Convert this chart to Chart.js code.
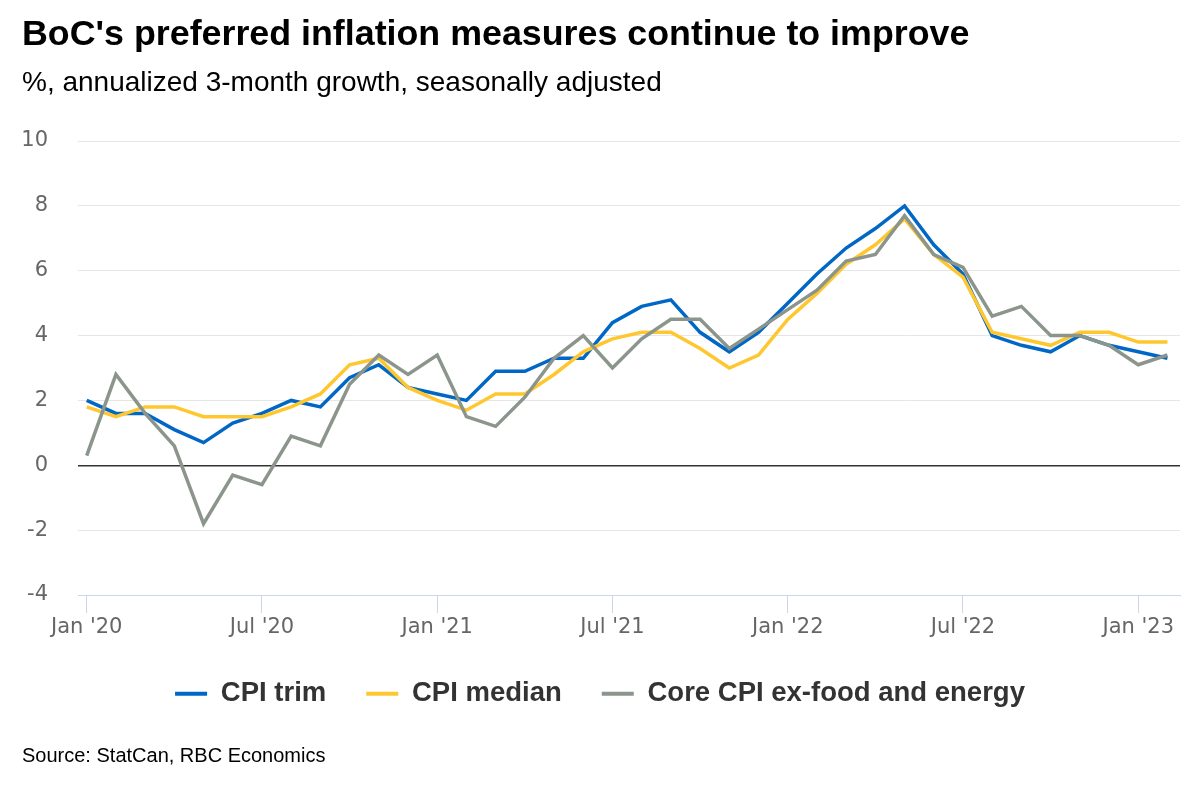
<!DOCTYPE html>
<html>
<head>
<meta charset="utf-8">
<script src="https://cdn.jsdelivr.net/npm/chart.js@4/dist/chart.umd.min.js"></script>
<style>
  html, body { margin: 0; padding: 0; background: #ffffff; }
  #wrap { position: relative; width: 1200px; height: 800px; overflow: hidden; background: #ffffff; }
  #chart { position: absolute; left: 0; top: 0; }
  .txt { position: absolute; left: 22px; white-space: nowrap; line-height: 1; font-family: "Liberation Sans", Arial, sans-serif; color: #000; }
  #title { top: 16px; font-size: 35.8px; font-weight: bold; }
  #subtitle { top: 68px; font-size: 28px; }
  #source { top: 745px; font-size: 20px; }
</style>
</head>
<body>
<div id="wrap">
  <canvas id="chart" width="1200" height="800"></canvas>
  <div class="txt" id="title">BoC's preferred inflation measures continue to improve</div>
  <div class="txt" id="subtitle">%, annualized 3-month growth, seasonally adjusted</div>
  <div class="txt" id="source">Source: StatCan, RBC Economics</div>
</div>
<script>
// ---- data ----
const months = [
  '2020-01','2020-02','2020-03','2020-04','2020-05','2020-06','2020-07','2020-08','2020-09','2020-10','2020-11','2020-12',
  '2021-01','2021-02','2021-03','2021-04','2021-05','2021-06','2021-07','2021-08','2021-09','2021-10','2021-11','2021-12',
  '2022-01','2022-02','2022-03','2022-04','2022-05','2022-06','2022-07','2022-08','2022-09','2022-10','2022-11','2022-12',
  '2023-01','2023-02'
];
const cpiTrim = [2.0,1.6,1.6,1.1,0.7,1.3,1.6,2.0,1.8,2.7,3.1,2.4,
                 2.2,2.0,2.9,2.9,3.3,3.3,4.4,4.9,5.1,4.1,3.5,4.1,
                 5.0,5.9,6.7,7.3,8.0,6.8,5.9,4.0,3.7,3.5,4.0,3.7,
                 3.5,3.3];
const cpiMedian = [1.8,1.5,1.8,1.8,1.5,1.5,1.5,1.8,2.2,3.1,3.3,2.4,
                   2.0,1.7,2.2,2.2,2.8,3.5,3.9,4.1,4.1,3.6,3.0,3.4,
                   4.5,5.3,6.2,6.8,7.6,6.5,5.8,4.1,3.9,3.7,4.1,4.1,
                   3.8,3.8];
const coreCpi = [0.3,2.8,1.6,0.6,-1.8,-0.3,-0.6,0.9,0.6,2.5,3.4,2.8,
                 3.4,1.5,1.2,2.1,3.3,4.0,3.0,3.9,4.5,4.5,3.6,4.2,
                 4.8,5.4,6.3,6.5,7.7,6.5,6.1,4.6,4.9,4.0,4.0,3.7,
                 3.1,3.4];
const seriesNames = ['CPI trim', 'CPI median', 'Core CPI ex-food and energy'];
const seriesColors = ['#0067c6', '#ffc72f', '#8b958b'];
const tickMonths = ['2020-01','2020-07','2021-01','2021-07','2022-01','2022-07','2023-01'];
const tickLabels = ["Jan '20","Jul '20","Jan '21","Jul '21","Jan '22","Jul '22","Jan '23"];
const yTicks = [-4, -2, 0, 2, 4, 6, 8, 10];

// ---- build ----
function pts(arr) { return arr.map((v, i) => ({ x: i, y: v })); }
const seriesData = [cpiTrim, cpiMedian, coreCpi];
const drawOrder = [3, 2, 1]; // gray on top, blue at bottom
const datasets = seriesData.map((d, k) => ({
  label: seriesNames[k],
  data: pts(d),
  borderColor: seriesColors[k],
  backgroundColor: seriesColors[k],
  borderWidth: 3.5,
  pointRadius: 0,
  pointHoverRadius: 0,
  tension: 0,
  fill: false,
  order: drawOrder[k],
  borderJoinStyle: 'miter'
}));
const tickValues = tickMonths.map(m => months.indexOf(m));

const shiftLegend = {
  id: 'shiftLegend',
  afterLayout(chart) {
    if (chart.legend) { chart.legend.left += 10; chart.legend.right += 10; }
  }
};

new Chart(document.getElementById('chart'), {
  type: 'line',
  data: { datasets },
  plugins: [shiftLegend],
  options: {
    responsive: false,
    animation: false,
    events: [],
    layout: { padding: { top: 141, left: 0, right: 20, bottom: 82.5 } },
    scales: {
      x: {
        type: 'linear',
        min: -0.298,
        max: 37.43,
        afterBuildTicks(scale) { scale.ticks = tickValues.map(v => ({ value: v })); },
        afterFit(scale) { scale.height = 45; },
        ticks: {
          autoSkip: false,
          maxRotation: 0,
          padding: 2,
          color: '#666666',
          font: { family: 'DejaVu Sans', size: 21 },
          callback: (v) => { const i = tickValues.indexOf(v); return i >= 0 ? tickLabels[i] : ''; }
        },
        grid: {
          drawOnChartArea: false,
          drawTicks: true,
          tickLength: 18,
          color: '#ccd6eb',
          lineWidth: 1
        },
        border: { display: true, color: '#ccd6eb', width: 1 }
      },
      y: {
        min: -4,
        max: 10,
        afterBuildTicks(scale) { scale.ticks = yTicks.map(v => ({ value: v })); },
        afterFit(scale) { scale.width = 78; },
        ticks: {
          padding: 30,
          color: '#666666',
          font: { family: 'DejaVu Sans', size: 21 }
        },
        grid: {
          drawTicks: false,
          color: (ctx) => (ctx.tick && ctx.tick.value === 0) ? '#333333' : '#e6e6e6',
          lineWidth: (ctx) => (ctx.tick && ctx.tick.value === 0) ? 1.5 : 1
        },
        border: { display: false }
      }
    },
    plugins: {
      title: { display: false },
      tooltip: { enabled: false },
      legend: {
        display: true,
        position: 'bottom',
        labels: {
          boxWidth: 32,
          boxHeight: 4,
          padding: 40,
          color: '#333333',
          font: { family: 'Liberation Sans', size: 27.5, weight: 'bold' },
          sort: (a, b) => a.datasetIndex - b.datasetIndex,
          generateLabels(chart) {
            const items = Chart.defaults.plugins.legend.labels.generateLabels(chart);
            return items.map(it => Object.assign(it, { lineWidth: 0, strokeStyle: 'rgba(0,0,0,0)', fillStyle: seriesColors[it.datasetIndex] }));
          }
        }
      }
    }
  }
});
</script>
</body>
</html>
